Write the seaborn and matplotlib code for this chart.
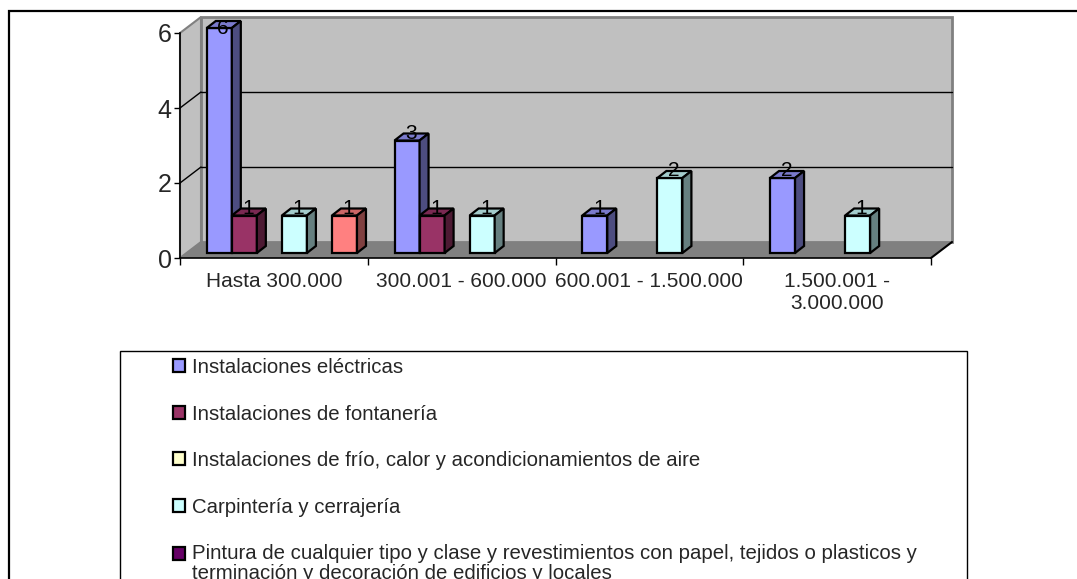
import numpy as np
import pandas as pd
import matplotlib
matplotlib.use("Agg")
import matplotlib.pyplot as plt
import seaborn as sns
from matplotlib.patches import Polygon, Rectangle
from matplotlib.colors import to_rgb
from matplotlib.legend_handler import HandlerPatch

# data
categories = ["Hasta 300.000", "300.001 - 600.000", "600.001 - 1.500.000",
              "1.500.001 -\n3.000.000"]
series = [
    "Instalaciones eléctricas",
    "Instalaciones de fontanería",
    "Instalaciones de frío, calor y acondicionamientos de aire",
    "Carpintería y cerrajería",
    "Pintura de cualquier tipo y clase y revestimientos con papel, tejidos o plasticos y\n"
    "terminación y decoración de edificios y locales",
    "Otros",
]
electricas = [6, 3, 1, 2]
fontaneria = [1, 1, np.nan, np.nan]
frio = [np.nan, np.nan, np.nan, np.nan]
carpinteria = [1, 1, 2, 1]
pintura = [np.nan, np.nan, np.nan, np.nan]
otros = [1, np.nan, np.nan, np.nan]
colors = ["#9999FF", "#993366", "#FFFFCC", "#CCFFFF", "#660066", "#FF8080"]

values = [electricas, fontaneria, frio, carpinteria, pintura, otros]
rows = []
for s, vals in zip(series, values):
    for c, v in zip(categories, vals):
        rows.append({"rango": c, "serie": s, "n": v})
df = pd.DataFrame(rows).dropna()

sns.set_theme(style="white")
plt.rcParams["font.family"] = ["Liberation Sans", "DejaVu Sans"]

W, H = 1077, 579
fig = plt.figure(figsize=(W / 100, H / 100), dpi=100)
ax_l, ax_r, ax_t, ax_b = 180, 931, 33, 258
ax = fig.add_axes([ax_l / W, 1 - ax_b / H, (ax_r - ax_l) / W, (ax_b - ax_t) / H])

sns.barplot(data=df, x="rango", y="n", hue="serie", order=categories,
            hue_order=series, palette=colors, saturation=1, width=0.8,
            edgecolor="black", linewidth=1.6, errorbar=None, ax=ax)
if ax.get_legend() is not None:
    ax.get_legend().remove()

ax.set_xlim(-0.5, 3.5)
ax.set_ylim(0, 6)
ux = (ax_r - ax_l) / 4.0   # px per x unit
uy = (ax_b - ax_t) / 6.0   # px per y unit

# 3D depth of the box and of the bars (pixels)
DX, DY = 21 / ux, 16 / uy
SX, SY = 8 / ux, 5 / uy
BX, BY = 9 / ux, 7 / uy

# walls and floor
x0, x1 = -0.5, 3.5
ax.add_patch(Polygon([(x0 + DX, DY), (x1 + DX, DY), (x1 + DX, 6 + DY), (x0 + DX, 6 + DY)],
                     closed=True, facecolor="#C0C0C0", edgecolor="#808080", lw=2,
                     zorder=0.2, clip_on=False))
ax.add_patch(Polygon([(x0, 0), (x0 + DX, DY), (x0 + DX, 6 + DY), (x0, 6)],
                     closed=True, facecolor="#C0C0C0", edgecolor="#808080", lw=1.5,
                     zorder=0.3, clip_on=False))
ax.add_patch(Polygon([(x0, 0), (x1, 0), (x1 + DX, DY), (x0 + DX, DY)],
                     closed=True, facecolor="#808080", edgecolor="none",
                     zorder=0.4, clip_on=False))
ax.plot([x1, x1 + DX], [0, DY], color="black", lw=1.5, zorder=0.5, clip_on=False)
for v in [2, 4]:
    ax.plot([x0 + DX, x1 + DX], [v + DY, v + DY], color="black", lw=1, zorder=0.45, clip_on=False)
    ax.plot([x0, x0 + DX], [v, v + DY], color="black", lw=1, zorder=0.45, clip_on=False)

# turn flat bars into boxes
bars = [p for p in ax.patches if isinstance(p, Rectangle) and np.isfinite(p.get_height())
        and p.get_height() > 0 and p.get_width() < 0.5]
bars.sort(key=lambda p: p.get_x())
for i, p in enumerate(bars):
    z = 2 + i * 0.01
    bx0 = p.get_x() + SX
    bw = p.get_width()
    h = p.get_height()
    p.set_x(bx0)
    p.set_y(SY)
    p.set_zorder(z)
    p.set_clip_on(False)
    rgb = np.array(to_rgb(p.get_facecolor()))
    bx1 = bx0 + bw
    top = SY + h
    ax.add_patch(Polygon([(bx0, top), (bx1, top), (bx1 + BX, top + BY), (bx0 + BX, top + BY)],
                         closed=True, facecolor=rgb * 0.8, edgecolor="black", lw=1.6,
                         zorder=z, clip_on=False))
    ax.add_patch(Polygon([(bx1, SY), (bx1 + BX, SY + BY), (bx1 + BX, top + BY), (bx1, top)],
                         closed=True, facecolor=rgb * 0.5, edgecolor="black", lw=1.6,
                         zorder=z, clip_on=False))
    label_y = min(top + 7 / uy, 6 + SY)
    ax.text(bx0 + bw / 2 + 4 / ux, label_y, f"{h:g}", ha="center", va="center",
            fontsize=15, color="black", zorder=5)

# axes
sns.despine(ax=ax, top=True, right=True, left=False, bottom=False)
for sp in ["left", "bottom"]:
    ax.spines[sp].set_color("black")
    ax.spines[sp].set_linewidth(1.2)
    ax.spines[sp].set_zorder(3)
ax.set_yticks([0, 2, 4, 6])
ax.tick_params(axis="y", direction="out", length=4, width=1, color="black",
               labelsize=18, pad=2, left=True)
ax.set_xticks([-0.5, 0.5, 1.5, 2.5, 3.5])
ax.set_xticklabels([])
ax.set_xticks(range(len(categories)), minor=True)
ax.set_xticklabels(categories, minor=True)
ax.tick_params(axis="x", which="major", direction="out", length=5, width=1,
               color="black", bottom=True)
ax.tick_params(axis="x", which="minor", length=0, labelsize=15, pad=10)
ax.set_xlabel("")
ax.set_ylabel("")
ax.grid(False)
ax.set_facecolor("none")

# outer chart frame (extends past the crop)
fig.patches.append(Rectangle((9 / W, -0.1), 1.2, 1 - 11 / H + 0.1, transform=fig.transFigure,
                             facecolor="none", edgecolor="black", lw=1.6, clip_on=False))
# legend box
fig.patches.append(Rectangle((120 / W, -0.1), (967 - 120) / W, 1 - 351 / H + 0.1,
                             transform=fig.transFigure, facecolor="white",
                             edgecolor="black", lw=1, clip_on=False))

LEG_FS = 14.7


def first_line_patch(legend, orig_handle, xdescent, ydescent, width, height, fontsize):
    # put the key next to the first line of a two-line label
    shift = 0.5 * 1.05 * LEG_FS
    return Rectangle((-xdescent, -ydescent + shift), width, height)


handles = [Rectangle((0, 0), 1, 1, facecolor=c, edgecolor="black", lw=1.6) for c in colors]
handler_map = {handles[4]: HandlerPatch(patch_func=first_line_patch)}
leg = fig.legend(handles, series, loc="upper left", bbox_to_anchor=(173 / W, 1 - 358 / H),
                 frameon=False, fontsize=LEG_FS, handlelength=0.6, handleheight=0.6,
                 handletextpad=0.35, labelspacing=1.35, borderpad=0, borderaxespad=0,
                 handler_map=handler_map)
leg.get_texts()[4].set_linespacing(1.05)

fig.savefig("out.png", dpi=100)
